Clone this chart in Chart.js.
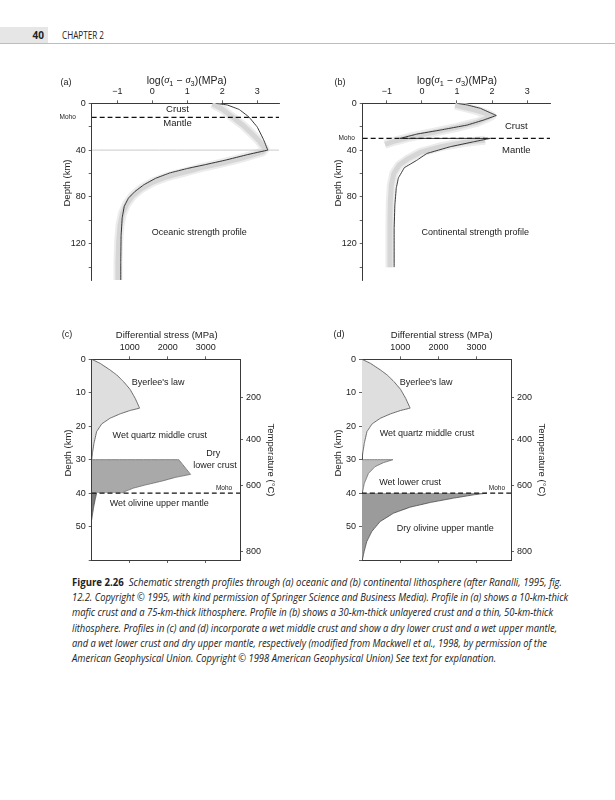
<!DOCTYPE html>
<html>
<head>
<meta charset="utf-8">
<script src="https://cdn.jsdelivr.net/npm/chart.js@4.4.1/dist/chart.umd.min.js"></script>
<style>
  html, body { margin: 0; padding: 0; background: #fff; }
  #page { position: relative; width: 615px; height: 800px; overflow: hidden; font-family: 'Open Sans', sans-serif; color: #222; }
  canvas { position: absolute; }
  #pgbox { position: absolute; left: 0; top: 27px; width: 48px; height: 16px; background: #e6e6e6; }
  #pgno { position: absolute; left: 0; top: 27px; width: 44px; height: 16px; line-height: 16px; text-align: right; font-weight: 700; font-size: 10px; }
  #chap { position: absolute; left: 62px; top: 27px; height: 16px; line-height: 16px; font-size: 10px; white-space: nowrap; transform-origin: 0 50%; }
  #rule { position: absolute; left: 0; top: 43px; width: 615px; height: 1px; background: #bdbdbd; }
  .cap { position: absolute; left: 72px; white-space: nowrap; font-size: 10px; line-height: 14px; font-style: italic; transform-origin: 0 50%; }
  .cap b { font-style: normal; }
</style>
</head>
<body>
<div id="page">
  <div id="pgbox"></div>
  <div id="pgno">40</div>
  <div id="chap">CHAPTER 2</div>
  <div id="rule"></div>
  <canvas id="cA" width="245" height="224" style="left:45px;top:66px"></canvas>
  <canvas id="cB" width="244" height="224" style="left:316px;top:66px"></canvas>
  <canvas id="cC" width="250" height="248" style="left:45px;top:322px"></canvas>
  <canvas id="cD" width="250" height="248" style="left:316px;top:322px"></canvas>
  <div id="caption"></div>
</div>
<script>
'use strict';
// ---------------------------------------------------------------
//  Strength profiles, fig 2.26 — four small Chart.js panels.
//  Depth runs down the (reversed) y axis, so every line is drawn
//  with indexAxis 'y' and the fills go back to the stress=0 axis.
// ---------------------------------------------------------------

// (a) oceanic: log10(sigma1 - sigma3) in MPa vs depth in km
const oceDepth = [0, 1.4, 5.2, 11.6, 20.3, 30.4, 40, 44, 48.5, 52.5, 55.7, 59.5, 64, 69.6, 75.5, 81, 88, 98, 113, 136, 151];
const oceLog   = [1.81, 2.14, 2.48, 2.76, 3.0, 3.17, 3.30, 2.7, 2.1, 1.5, 1.0, 0.5, 0.1, -0.24, -0.5, -0.68, -0.8, -0.86, -0.89, -0.9, -0.9];
const oceBandDepth = [0.5, 5, 12, 19, 26, 32, 39, 41.5, 46.5, 51, 55, 59, 63, 67.5, 73, 79, 86, 94, 104, 118, 136, 151];
const oceBandLog   = [1.72, 2.0, 2.3, 2.6, 2.85, 3.05, 3.22, 3.15, 2.6, 2.0, 1.4, 0.9, 0.4, 0.0, -0.32, -0.56, -0.73, -0.85, -0.92, -0.96, -0.98, -0.98];

// (b) continental
const conDepth = [0, 1.4, 4.3, 8.1, 10.4, 14.3, 18.6, 22.9, 26.3, 30, 30, 32.9, 37.1, 42.9, 48.6, 55, 63.8, 72.5, 87, 107, 140];
const conLog   = [1.0, 1.29, 1.67, 1.95, 2.12, 1.76, 1.29, 0.52, -0.14, -0.62, 1.95, 1.47, 0.81, 0.14, -0.14, -0.5, -0.67, -0.73, -0.77, -0.79, -0.79];
const conBandUpDepth = [1.5, 6.5, 10.5, 16, 20.5, 25, 29, 32.5, 35];
const conBandUpLog   = [0.95, 1.6, 2.0, 1.6, 1.0, 0.3, -0.35, -0.8, -1.05];
const conBandLoDepth = [31.5, 33.5, 37, 42, 47.5, 53, 60, 70, 85, 105, 140];
const conBandLoLog   = [1.8, 1.2, 0.55, -0.05, -0.4, -0.65, -0.8, -0.87, -0.9, -0.91, -0.91];

// (c) and (d): differential stress (MPa) vs depth (km)
const byerDepth  = [0, 1.2, 3.2, 4.7, 6.7, 9.0, 11.7, 14.6, 15.3, 16.3, 17.6, 19.3, 21.6, 25.1, 28.0, 30];
const byerStress = [0, 220, 485, 660, 840, 1010, 1145, 1260, 1010, 750, 485, 265, 130, 60, 20, 0];
const dryLcDepth  = [30, 30, 34.4, 35.3, 36.4, 37.6, 38.5, 39.4, 40];
const dryLcStress = [0, 2290, 2600, 2200, 1850, 1400, 1100, 900, 790];
const wetOlDepth  = [40, 40, 42, 44, 46, 48];
const wetOlStress = [0, 130, 90, 55, 25, 0];
const wetLcDepth  = [30, 30, 30.9, 32.1, 34.1, 37.1, 39.5, 40];
const wetLcStress = [0, 810, 560, 340, 170, 60, 18, 0];
const dryOlDepth  = [40, 40, 40.5, 41.5, 42.8, 44.2, 46, 48.5, 51.5, 54.5, 57.5, 60];
const dryOlStress = [0, 3270, 2930, 2400, 1790, 1260, 825, 475, 255, 125, 55, 10];

// ticks
const logTicks     = [-1, 0, 1, 2, 3];
const depthTicksAB = [0, 20, 40, 60, 80, 100, 120, 140];
const stressTicks  = [1000, 2000, 3000];
const depthTicksCD = [0, 10, 20, 30, 40, 50, 60];
const tempLabels   = [200, 400, 600, 800];
const tempDepths   = [11.3, 23.9, 37.8, 57.5];   // depth where each isotherm sits on the right axis
const mohoA = 12, mohoB = 30, mohoCD = 40, lidA = 40;

// ---------------------------------------------------------------
const SANS = "'Liberation Sans', Arial, sans-serif";
const INK = '#222', AXIS = '#3a3a3a';

const pts = (xs, ys) => ys.map((y, i) => ({ x: xs[i], y }));
const minus = v => v < 0 ? '\u2212' + Math.abs(v) : String(v);

// draw a row of text pieces (italic / subscript) centred on cx
function drawRich(ctx, parts, cx, cy, size) {
  const fontOf = p => (p.it ? 'italic ' : '') + (p.sub ? size * 0.7 : size) + 'px ' + (p.it ? "'Liberation Serif', serif" : SANS);
  let w = 0;
  parts.forEach(p => { ctx.font = fontOf(p); w += ctx.measureText(p.t).width; });
  let x = cx - w / 2;
  ctx.textAlign = 'left';
  parts.forEach(p => {
    ctx.font = fontOf(p);
    ctx.fillText(p.t, x, cy + (p.sub ? size * 0.32 : 0));
    x += ctx.measureText(p.t).width;
  });
}

// labels: x/y in data units, or dx/dy in px from the chart area (fromRight uses its right edge)
const notesPlugin = {
  id: 'notes',
  afterDraw(chart, args, opts) {
    const { ctx, chartArea: a, scales } = chart;
    ctx.save();
    ctx.fillStyle = INK;
    ctx.textBaseline = 'middle';
    (opts.items || []).forEach(n => {
      const px = n.dx !== undefined ? (n.fromRight ? a.right : a.left) + n.dx : scales.x.getPixelForValue(n.x);
      const py = n.dy !== undefined ? a.top + n.dy : scales.y.getPixelForValue(n.y);
      const size = n.size || 9;
      if (n.rich) { drawRich(ctx, n.rich, px, py, size); return; }
      ctx.font = size + 'px ' + SANS;
      ctx.textAlign = 'center';
      if (n.rot) {
        ctx.save(); ctx.translate(px, py); ctx.rotate(n.rot * Math.PI / 180);
        ctx.fillText(n.t, 0, 0); ctx.restore();
      } else ctx.fillText(n.t, px, py);
    });
    ctx.restore();
  }
};

const tickFont = { family: SANS, size: 9 };
const flatGone = c => c.p0.parsed.y === c.p1.parsed.y ? 'rgba(0,0,0,0)' : undefined;

function axisX(min, max, ticks, pos, h, fmt) {
  return {
    type: 'linear', position: pos, min, max,
    afterBuildTicks: s => { s.ticks = ticks.map(v => ({ value: v })); },
    ticks: { callback: fmt, font: tickFont, color: INK, padding: 3, maxRotation: 0, autoSkip: false },
    grid: { drawOnChartArea: false, tickLength: 3, color: AXIS, lineWidth: 0.8 },
    border: { display: true, color: AXIS, width: 1 },
    afterFit: s => { s.height = h; }
  };
}
function axisY(max, ticks, pos, w, fmt) {
  return {
    type: 'linear', position: pos, reverse: true, min: 0, max,
    afterBuildTicks: s => { s.ticks = ticks.map(v => ({ value: v })); },
    ticks: { callback: fmt, font: tickFont, color: INK, padding: 3, autoSkip: false },
    grid: { drawOnChartArea: false, tickLength: 3, color: AXIS, lineWidth: 0.8 },
    border: { display: true, color: AXIS, width: 1 },
    afterFit: s => { s.width = w; }
  };
}

function panel(id, datasets, scales, pad, notes) {
  return new Chart(document.getElementById(id), {
    type: 'line',
    data: { datasets },
    options: {
      indexAxis: 'y', responsive: false, animation: false, events: [],
      layout: { padding: pad },
      // tiny tension keeps the polylines but avoids the fast path that thickens near-vertical runs
      elements: { point: { radius: 0 }, line: { tension: 0.001, borderJoinStyle: 'round' } },
      scales,
      plugins: { legend: { display: false }, tooltip: { enabled: false }, notes: { items: notes } }
    },
    plugins: [notesPlugin]
  });
}

const sigTitle = [{ t: 'log(' }, { t: '\u03c3', it: 1 }, { t: '1', sub: 1 }, { t: ' \u2212 ' }, { t: '\u03c3', it: 1 }, { t: '3', sub: 1 }, { t: ')(MPa)' }];
const band = (xs, ys, w, c) => ({ data: pts(xs, ys), borderColor: c, borderWidth: w, borderCapStyle: 'butt' });
const dash = (x0, x1, y) => ({ data: [{ x: x0, y }, { x: x1, y }], borderColor: '#111', borderWidth: 1.2, borderDash: [5, 3] });

// ---- (a) oceanic ----
const aX = [-1.73, 3.62];
panel('cA', [
  { data: pts(oceLog, oceDepth), borderColor: '#222', borderWidth: 0.9 },
  dash(aX[0], aX[1], mohoA),
  { data: [{ x: aX[0], y: lidA }, { x: aX[1], y: lidA }], borderColor: '#c9c9c9', borderWidth: 1 },
  band(oceBandLog, oceBandDepth, 5, '#d6d6d6'),
  band(oceBandLog, oceBandDepth, 9, '#ececec')
], {
  x: axisX(aX[0], aX[1], logTicks, 'top', 37.3, minus),
  y: axisY(151, depthTicksAB, 'left', 46.7, v => v % 40 === 0 ? v : '')
}, { left: 0, top: 0, right: 11, bottom: 10 }, [
  { t: 'Crust', x: 0.72, y: 5, size: 9.5 },
  { t: 'Mantle', x: 0.72, y: 17, size: 9.5 },
  { t: 'Oceanic strength profile', x: 1.34, y: 110.5 },
  { t: 'Moho', dx: -24, y: mohoA, size: 6.5 },
  { t: '(a)', dx: -25.7, dy: -20.3 },
  { rich: sigTitle, dx: 95, dy: -22.6, size: 10.5 },
  { t: 'Depth (km)', dx: -24.7, dy: 79.7, rot: -90, size: 9.5 }
]);

// ---- (b) continental ----
const bX = [-1.686, 3.65];
panel('cB', [
  { data: pts(conLog, conDepth), borderColor: '#222', borderWidth: 0.9 },
  dash(bX[0], bX[1], mohoB),
  band(conBandUpLog, conBandUpDepth, 5, '#d6d6d6'),
  band(conBandLoLog, conBandLoDepth, 5, '#d6d6d6'),
  band(conBandUpLog, conBandUpDepth, 9, '#ececec'),
  band(conBandLoLog, conBandLoDepth, 9, '#ececec')
], {
  x: axisX(bX[0], bX[1], logTicks, 'top', 37.3, minus),
  y: axisY(151, depthTicksAB, 'left', 46.7, v => v % 40 === 0 ? v : '')
}, { left: 0, top: 0, right: 10, bottom: 10 }, [
  { t: 'Crust', x: 2.69, y: 20, size: 9.5 },
  { t: 'Mantle', x: 2.69, y: 40, size: 9.5 },
  { t: 'Continental strength profile', x: 1.52, y: 110.8 },
  { t: 'Moho', dx: -16, y: mohoB, size: 6.5 },
  { t: '(b)', dx: -22.7, dy: -20.3 },
  { rich: sigTitle, dx: 94.3, dy: -22.6, size: 10.5 },
  { t: 'Depth (km)', dx: -24.7, dy: 79.7, rot: -90, size: 9.5 }
]);

// ---- (c) and (d) share axes ----
const sMax = 3900, dMax = 60;
function cdScales(yW) {
  return {
    x: axisX(0, sMax, stressTicks, 'top', 37.3, v => v),
    x2: axisX(0, sMax, stressTicks, 'bottom', 10, () => ''),
    y: axisY(dMax, depthTicksCD, 'left', yW, v => v === dMax ? '' : v),
    y2: axisY(dMax, tempDepths, 'right', 55, (v, i) => tempLabels[i])
  };
}
const fillSet = (xs, ys, bg, extra) => Object.assign({
  data: pts(xs, ys), fill: 'origin', backgroundColor: bg, borderColor: '#4a4a4a', borderWidth: 0.8
}, extra || {});
const cdTitles = (letterDx) => [
  { t: letterDx[0], dx: letterDx[1], dy: -24.3 },
  { t: 'Differential stress (MPa)', dx: letterDx[2], dy: -23.6, size: 9.5 },
  { t: 'Depth (km)', dx: -23.7, dy: 93.7, rot: -90, size: 9.5 },
  { t: 'Temperature (\u00b0C)', dx: 31, dy: 100.7, fromRight: true, rot: 90, size: 9.5 }
];

panel('cC', [
  dash(0, sMax, mohoCD),
  fillSet(byerStress, byerDepth, '#dedede'),
  fillSet(dryLcStress, dryLcDepth, '#a9a9a9', { borderColor: '#6a6a6a' }),
  fillSet(wetOlStress, wetOlDepth, '#7a7a7a', { segment: { borderColor: flatGone } })
], cdScales(46.7), { left: 0, top: 0, right: 0, bottom: 0 }, [
  { t: "Byerlee's law", x: 1745, y: 7.0 },
  { t: 'Wet quartz middle crust', x: 1790, y: 22.8 },
  { t: 'Dry', x: 3195, y: 28.2 },
  { t: 'lower crust', x: 3240, y: 31.9 },
  { t: 'Moho', x: 3480, y: 38.6, size: 6.5 },
  { t: 'Wet olivine upper mantle', x: 1775, y: 43.1 }
].concat(cdTitles(['(c)', -24.7, 75])));

panel('cD', [
  dash(0, sMax, mohoCD),
  fillSet(byerStress, byerDepth, '#dedede'),
  fillSet(wetLcStress, wetLcDepth, '#bcbcbc', { borderColor: '#6a6a6a' }),
  fillSet(dryOlStress, dryOlDepth, '#9b9b9b', { segment: { borderColor: flatGone } })
], cdScales(46), { left: 0, top: 0, right: 0, bottom: 0 }, [
  { t: "Byerlee's law", x: 1680, y: 7.0 },
  { t: 'Wet quartz middle crust', x: 1700, y: 22.1 },
  { t: 'Wet lower crust', x: 1260, y: 36.8 },
  { t: 'Moho', x: 3530, y: 38.6, size: 6.5 },
  { t: 'Dry olivine upper mantle', x: 2180, y: 50.5 }
].concat(cdTitles(['(d)', -23, 79.7])));

// ---- page furniture: header and caption ----
function fitWidth(el, w) {
  const nat = el.getBoundingClientRect().width;
  if (nat > 0) el.style.transform = 'scaleX(' + (w / nat) + ')';
}
fitWidth(document.getElementById('chap'), 42);

const capLines = [
  '<b>Figure 2.26</b>&nbsp; Schematic strength profiles through (a) oceanic and (b) continental lithosphere (after Ranalli, 1995, fig.',
  '12.2. Copyright \u00a9 1995, with kind permission of Springer Science and Business Media). Profile in (a) shows a 10-km-thick',
  'mafic crust and a 75-km-thick lithosphere. Profile in (b) shows a 30-km-thick unlayered crust and a thin, 50-km-thick',
  'lithosphere. Profiles in (c) and (d) incorporate a wet middle crust and show a dry lower crust and a wet upper mantle,',
  'and a wet lower crust and dry upper mantle, respectively (modified from Mackwell et al., 1998, by permission of the',
  'American Geophysical Union. Copyright \u00a9 1998 American Geophysical Union) See text for explanation.'
];
const capRight = [562, 568, 553, 557, 547, 496];
const cap = document.getElementById('caption');
capLines.forEach((html, i) => {
  const d = document.createElement('div');
  d.className = 'cap';
  d.style.top = (582 - 7 + i * 15.2) + 'px';
  d.innerHTML = html;
  cap.appendChild(d);
  fitWidth(d, capRight[i] - 72);
});
</script>
</body>
</html>
